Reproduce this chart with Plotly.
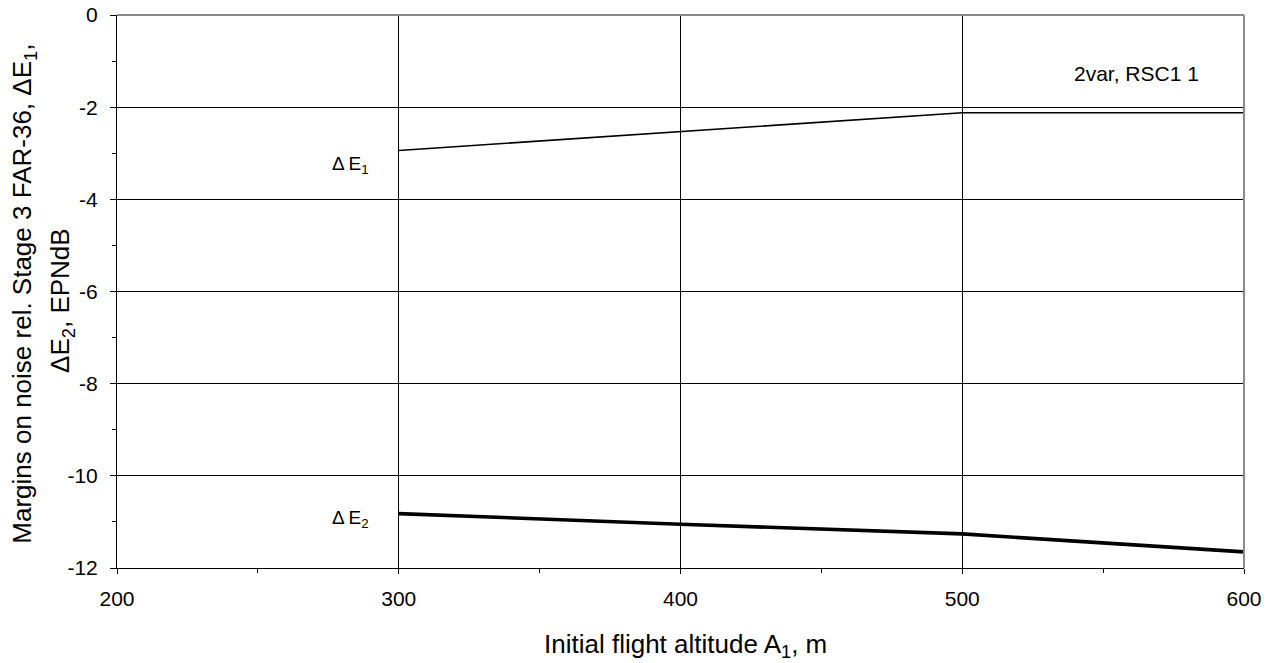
import plotly.graph_objects as go

altitude = [300, 400, 500, 600]
delta_e1 = [-2.94, -2.53, -2.12, -2.12]
delta_e2 = [-10.82, -11.05, -11.26, -11.65]

x_ticks = [200, 300, 400, 500, 600]
y_ticks = [0, -2, -4, -6, -8, -10, -12]
y_tick_labels = ["0", "-2", "-4", "-6", "-8", "-10", "-12"]

FONT = "Liberation Sans, Arial, sans-serif"

fig = go.Figure()
fig.add_trace(go.Scatter(x=altitude, y=delta_e1, mode="lines",
                         line=dict(color="black", width=1.6), showlegend=False))
fig.add_trace(go.Scatter(x=altitude, y=delta_e2, mode="lines",
                         line=dict(color="black", width=3.6), showlegend=False))

fig.update_layout(
    template="none",
    width=1278, height=663,
    margin=dict(l=117, r=34, t=15, b=95, pad=0),
    paper_bgcolor="white", plot_bgcolor="white",
    font=dict(family=FONT, color="black", size=21),
    xaxis=dict(range=[200, 600], tickvals=x_ticks, showgrid=True, gridcolor="black", gridwidth=1,
               showline=True, linecolor="black", linewidth=1, zeroline=False, automargin=False,
               ticks="outside", ticklen=5, tickcolor="black",
               minor=dict(dtick=50, ticks="outside", ticklen=4, tickcolor="black", showgrid=False),
               tickfont=dict(size=21), ticklabelstandoff=7),
    yaxis=dict(range=[-12, 0], tickvals=y_ticks, ticktext=y_tick_labels,
               showgrid=True, gridcolor="black", gridwidth=1,
               showline=True, linecolor="black", linewidth=1, zeroline=False, automargin=False,
               ticks="outside", ticklen=6, tickcolor="black",
               minor=dict(dtick=1, ticks="outside", ticklen=4, tickcolor="black", showgrid=False),
               tickfont=dict(size=21), ticklabelstandoff=8),
    shapes=[
        dict(type="line", xref="paper", yref="paper", x0=0, x1=1, y0=1, y1=1,
             line=dict(color="#8a8a8a", width=2)),
        dict(type="line", xref="paper", yref="paper", x0=1, x1=1, y0=0, y1=1,
             line=dict(color="#8a8a8a", width=2)),
    ],
    annotations=[
        dict(text="Margins on noise rel. Stage 3 FAR-36, ΔE<sub>1</sub>,", xref="paper", yref="paper",
             x=0, y=0.496, xshift=-93, textangle=-90, showarrow=False,
             xanchor="center", yanchor="middle", font=dict(size=26)),
        dict(text="ΔE<sub>2</sub>, EPNdB", xref="paper", yref="paper",
             x=0, y=0.483, xshift=-55, textangle=-90, showarrow=False,
             xanchor="center", yanchor="middle", font=dict(size=26)),
        dict(text="Initial flight altitude A<sub>1</sub>, m", xref="paper", yref="paper",
             x=0.5, y=0, yshift=-77, xshift=5, showarrow=False,
             xanchor="center", yanchor="middle", font=dict(size=26)),
        dict(text="Δ\u2009E<sub>1</sub>", xref="x", yref="y", x=283, y=-3.26, showarrow=False,
             xanchor="center", yanchor="middle", font=dict(size=19)),
        dict(text="Δ\u2009E<sub>2</sub>", xref="x", yref="y", x=283, y=-10.93, showarrow=False,
             xanchor="center", yanchor="middle", font=dict(size=19)),
        dict(text="2var, RSC1 1", xref="x", yref="y", x=562, y=-1.28, showarrow=False,
             xanchor="center", yanchor="middle", font=dict(size=21)),
    ],
)

fig.write_html("out.html")
